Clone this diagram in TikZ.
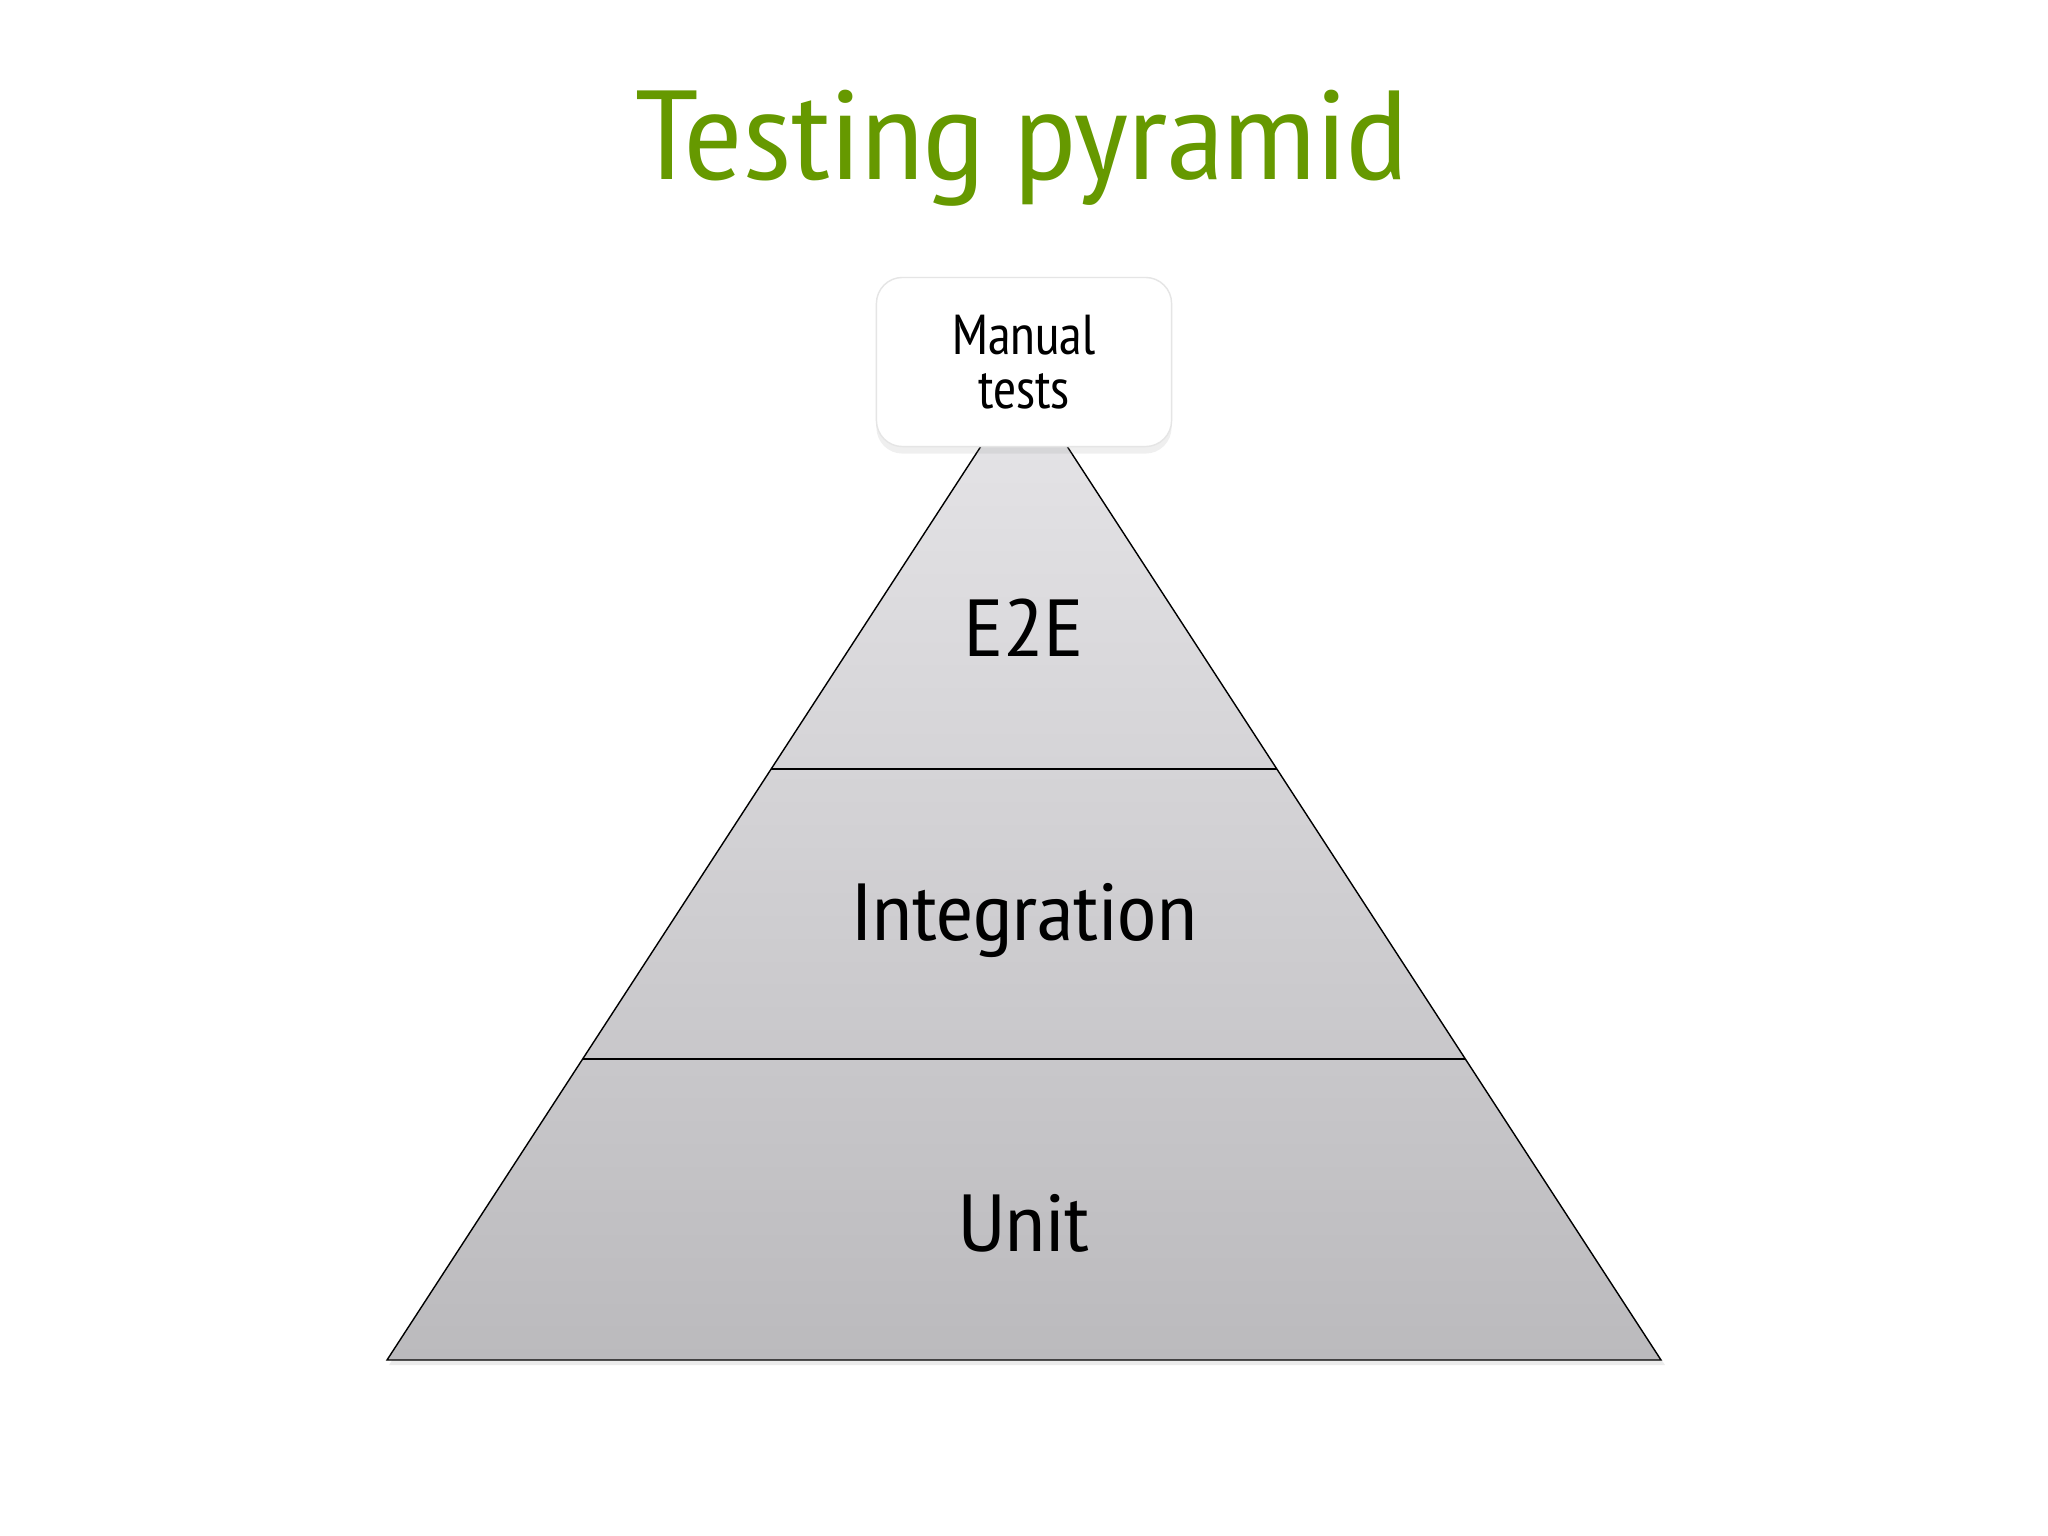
\documentclass[tikz,border=0pt]{standalone}
\usepackage{fontspec}
\setmainfont{PT Sans Narrow}
\newfontfamily\widefont[FakeStretch=1.12]{PT Sans Narrow}
\usepackage{xcolor}
\usetikzlibrary{calc,positioning,shadows}
\definecolor{titlegreen}{RGB}{102,153,0}
\definecolor{layertop}{RGB}{230,229,232}
\definecolor{layerbot}{RGB}{187,186,189}

\begin{document}
\begin{tikzpicture}[x=0.01cm,y=-0.01cm]
\tikzset{label/.style={font=\widefont\fontsize{23}{26}\selectfont, anchor=base}}
\useasboundingbox (0,0) rectangle (2048,1536);
\fill[white] (0,0) rectangle (2048,1536);
\node[anchor=base, text=titlegreen, font=\widefont\fontsize{36}{40}\selectfont](title) at (1022,179){Testing pyramid};
\coordinate (apex) at (1024,380);
\coordinate (bl) at (387,1360);
\coordinate (br) at (1661,1360);
\coordinate (l1) at ($(apex)!0.397!(bl)$);
\coordinate (r1) at ($(apex)!0.397!(br)$);
\coordinate (l2) at ($(apex)!0.693!(bl)$);
\coordinate (r2) at ($(apex)!0.693!(br)$);
% pyramid body
\fill[black, opacity=0.08] ($(bl)+(2,5)$) -- ($(br)+(4,5)$) -- ($(apex)+(3,5)$) -- cycle;
\shade[top color=layertop, bottom color=layerbot] (bl) -- (br) -- (apex) -- cycle;
\draw[thin] (bl) -- (br) -- (apex) -- cycle;
\draw[thin] (l1) -- (r1);
\draw[thin] (l2) -- (r2);
\node[label](e2e) at (1024,656){E2E};
\node[label](integ) at (1024,940){Integration};
\node[label](unit) at (1024,1251){Unit};
% top box
\node[draw=gray!20, fill=white, rounded corners=0.26cm, drop shadow={opacity=0.12, shadow xshift=0pt, shadow yshift=-2pt},
  minimum width=2.95cm, minimum height=1.69cm, align=center,
  font=\fontsize{16}{15.3}\selectfont](manual) at (1024,362){Manual\\tests};
\end{tikzpicture}
\end{document}
